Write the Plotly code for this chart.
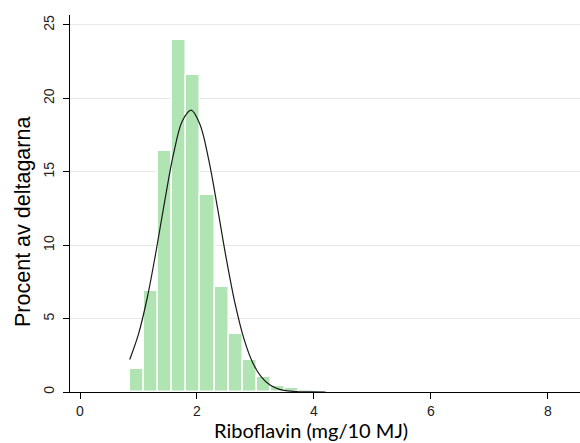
import plotly.graph_objects as go

# Histogram bins (bin centers, mg/10 MJ) and heights (percent of participants)
bin_centers = [0.98, 1.22, 1.46, 1.70, 1.94, 2.18, 2.42, 2.66, 2.90, 3.14, 3.38, 3.62, 3.86, 4.10]
bin_percent = [1.55, 6.88, 16.4, 24.0, 21.6, 13.4, 7.13, 3.95, 2.18, 1.04, 0.42, 0.25, 0.15, 0.08]
bin_width = 0.2402

# Normal-density overlay
curve_x = [0.85, 1.0, 1.15, 1.3, 1.45, 1.6, 1.75, 1.9, 2.05, 2.2, 2.35, 2.5, 2.65, 2.8,
           2.95, 3.1, 3.25, 3.4, 3.55, 3.7, 3.85, 4.0, 4.2]
curve_y = [2.21, 3.94, 6.42, 9.57, 13.04, 16.23, 18.46, 19.2, 18.24, 15.85, 12.58, 9.12, 6.05, 3.67,
           2.03, 1.03, 0.47, 0.20, 0.08, 0.03, 0.01, 0.003, 0.0]

x_ticks = [0, 2, 4, 6, 8]
y_ticks = [0, 5, 10, 15, 20, 25]

fig = go.Figure()
fig.add_trace(go.Bar(
    x=bin_centers, y=bin_percent, width=bin_width,
    marker=dict(color="#b0e5b3", line=dict(color="white", width=1.5)),
    showlegend=False, hoverinfo="skip",
))
fig.add_trace(go.Scatter(
    x=curve_x, y=curve_y, mode="lines", line=dict(color="#1a1a1a", width=1.2, shape="spline"),
    showlegend=False, hoverinfo="skip",
))

fig.update_layout(
    width=580, height=443,
    margin=dict(l=70, r=0, t=15, b=51),
    paper_bgcolor="white", plot_bgcolor="white",
    bargap=0,
    xaxis=dict(
        range=[-0.171, 8.55], tickvals=x_ticks, ticktext=[str(v) for v in x_ticks],
        showgrid=False, zeroline=False, showline=True, linecolor="black", linewidth=1,
        ticks="outside", ticklen=6, tickcolor="black", automargin=False,
        tickfont=dict(family="Liberation Sans", size=14, color="#222"),
    ),
    yaxis=dict(
        range=[0, 25.68], tickvals=y_ticks, ticktext=[str(v) for v in y_ticks],
        showgrid=True, gridcolor="#e8e8e8", gridwidth=1, zeroline=False,
        showline=True, linecolor="black", linewidth=1, automargin=False,
        ticks="outside", ticklen=6, tickcolor="black", tickangle=-90, ticklabelstandoff=3,
        tickfont=dict(family="Liberation Sans", size=14, color="#222"),
    ),
    annotations=[
        dict(text="Riboflavin (mg/10 MJ)", xref="paper", yref="paper", x=0.4725, y=0,
             xanchor="center", yanchor="middle", yshift=-38, showarrow=False,
             font=dict(family="Lato", size=20, color="black")),
        dict(text="Procent av deltagarna", xref="paper", yref="paper", x=0, y=0.451,
             xanchor="center", yanchor="middle", xshift=-47, textangle=-90, showarrow=False,
             font=dict(family="Liberation Sans", size=21.5, color="black")),
    ],
)

fig.write_html("out.html", config={"displayModeBar": False},
               post_script="document.body.style.margin='0';document.body.style.padding='0';")
